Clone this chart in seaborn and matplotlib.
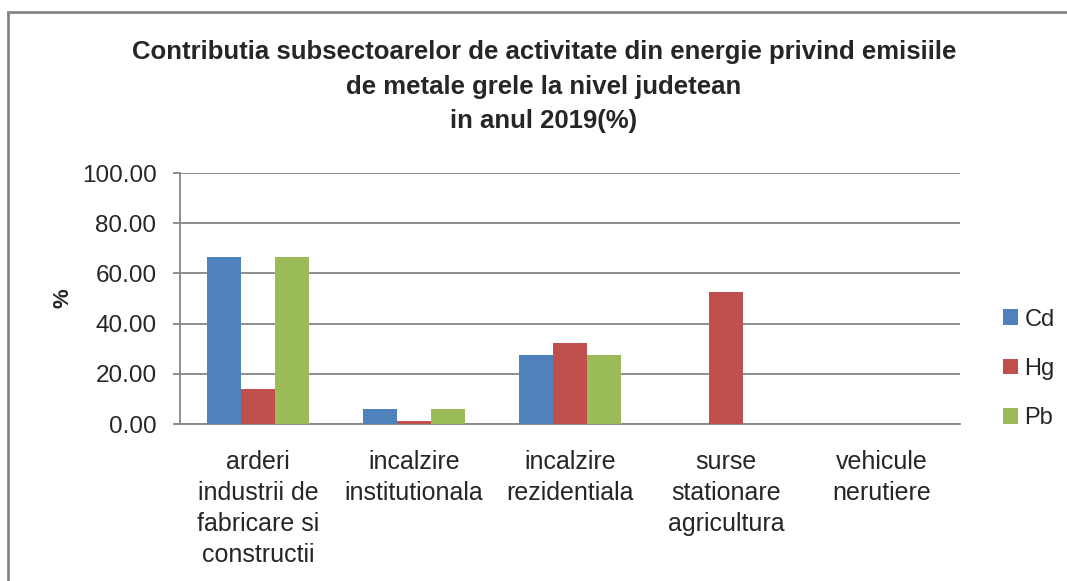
import pandas as pd
import matplotlib.pyplot as plt
import seaborn as sns
from matplotlib.patches import Rectangle

# Data
categories = ['arderi\nindustrii de\nfabricare si\nconstructii',
              'incalzire\ninstitutionala',
              'incalzire\nrezidentiala',
              'surse\nstationare\nagricultura',
              'vehicule\nnerutiere']
cd_values = [66.7, 5.9, 27.4, 0.0, 0.0]
hg_values = [14.0, 1.2, 32.2, 52.6, 0.0]
pb_values = [66.7, 5.9, 27.4, 0.0, 0.0]
metals = ['Cd', 'Hg', 'Pb']
colors = ['#4F81BD', '#C0504D', '#9BBB59']

df = pd.DataFrame({
    'Categorie': categories * 3,
    'Valoare': cd_values + hg_values + pb_values,
    'Metal': [m for m in metals for _ in categories],
})

sns.set_style('white')
plt.rcParams['font.family'] = ['Liberation Sans', 'DejaVu Sans']

fig = plt.figure(figsize=(10.67, 5.81), dpi=100)
ax = fig.add_axes([0.1687, 0.2702, 0.7310, 0.4320])

sns.barplot(data=df, x='Categorie', y='Valoare', hue='Metal', palette=colors,
            width=0.66, gap=0, linewidth=0, saturation=1, ax=ax, zorder=3)

ax.set_ylim(0, 100)
ax.set_yticks([0, 20, 40, 60, 80, 100])
ax.set_yticklabels([f'{v:.2f}' for v in [0, 20, 40, 60, 80, 100]])
ax.yaxis.grid(True, color='#868686', linewidth=1.3, zorder=0)
ax.set_axisbelow(True)
for side in ['top', 'right']:
    ax.spines[side].set_visible(False)
for side in ['left', 'bottom']:
    ax.spines[side].set_color('#868686')
    ax.spines[side].set_linewidth(1.3)

ax.tick_params(axis='y', direction='out', length=5, width=1.3, color='#868686',
               labelsize=17.5, pad=12, left=True)
ax.tick_params(axis='x', length=0, labelsize=18, pad=19)
for lbl in ax.get_xticklabels():
    lbl.set_linespacing(1.37)
    lbl.set_va('top')

ax.set_xlabel('')
ax.set_ylabel('%', fontsize=16, fontweight='bold', labelpad=6)

fig.text(544 / 1067, 1 - 40 / 581,
         'Contributia subsectoarelor de activitate din energie privind emisiile\n'
         'de metale grele la nivel judetean\nin anul 2019(%)',
         ha='center', va='top', fontsize=18.5, fontweight='bold', linespacing=1.56)

ax.legend(loc='center left', bbox_to_anchor=(1.028, 0.22), frameon=False,
          fontsize=17, handlelength=0.65, handleheight=0.65, handletextpad=0.25,
          labelspacing=1.15)

# outer chart border (right and bottom edges fall outside the picture)
fig.patches.append(Rectangle((8 / 1067, -0.1), 1.1, 1.1 - 12 / 581,
                             transform=fig.transFigure, fill=False,
                             edgecolor='#868686', linewidth=2))

fig.savefig('out.png', dpi=100)
